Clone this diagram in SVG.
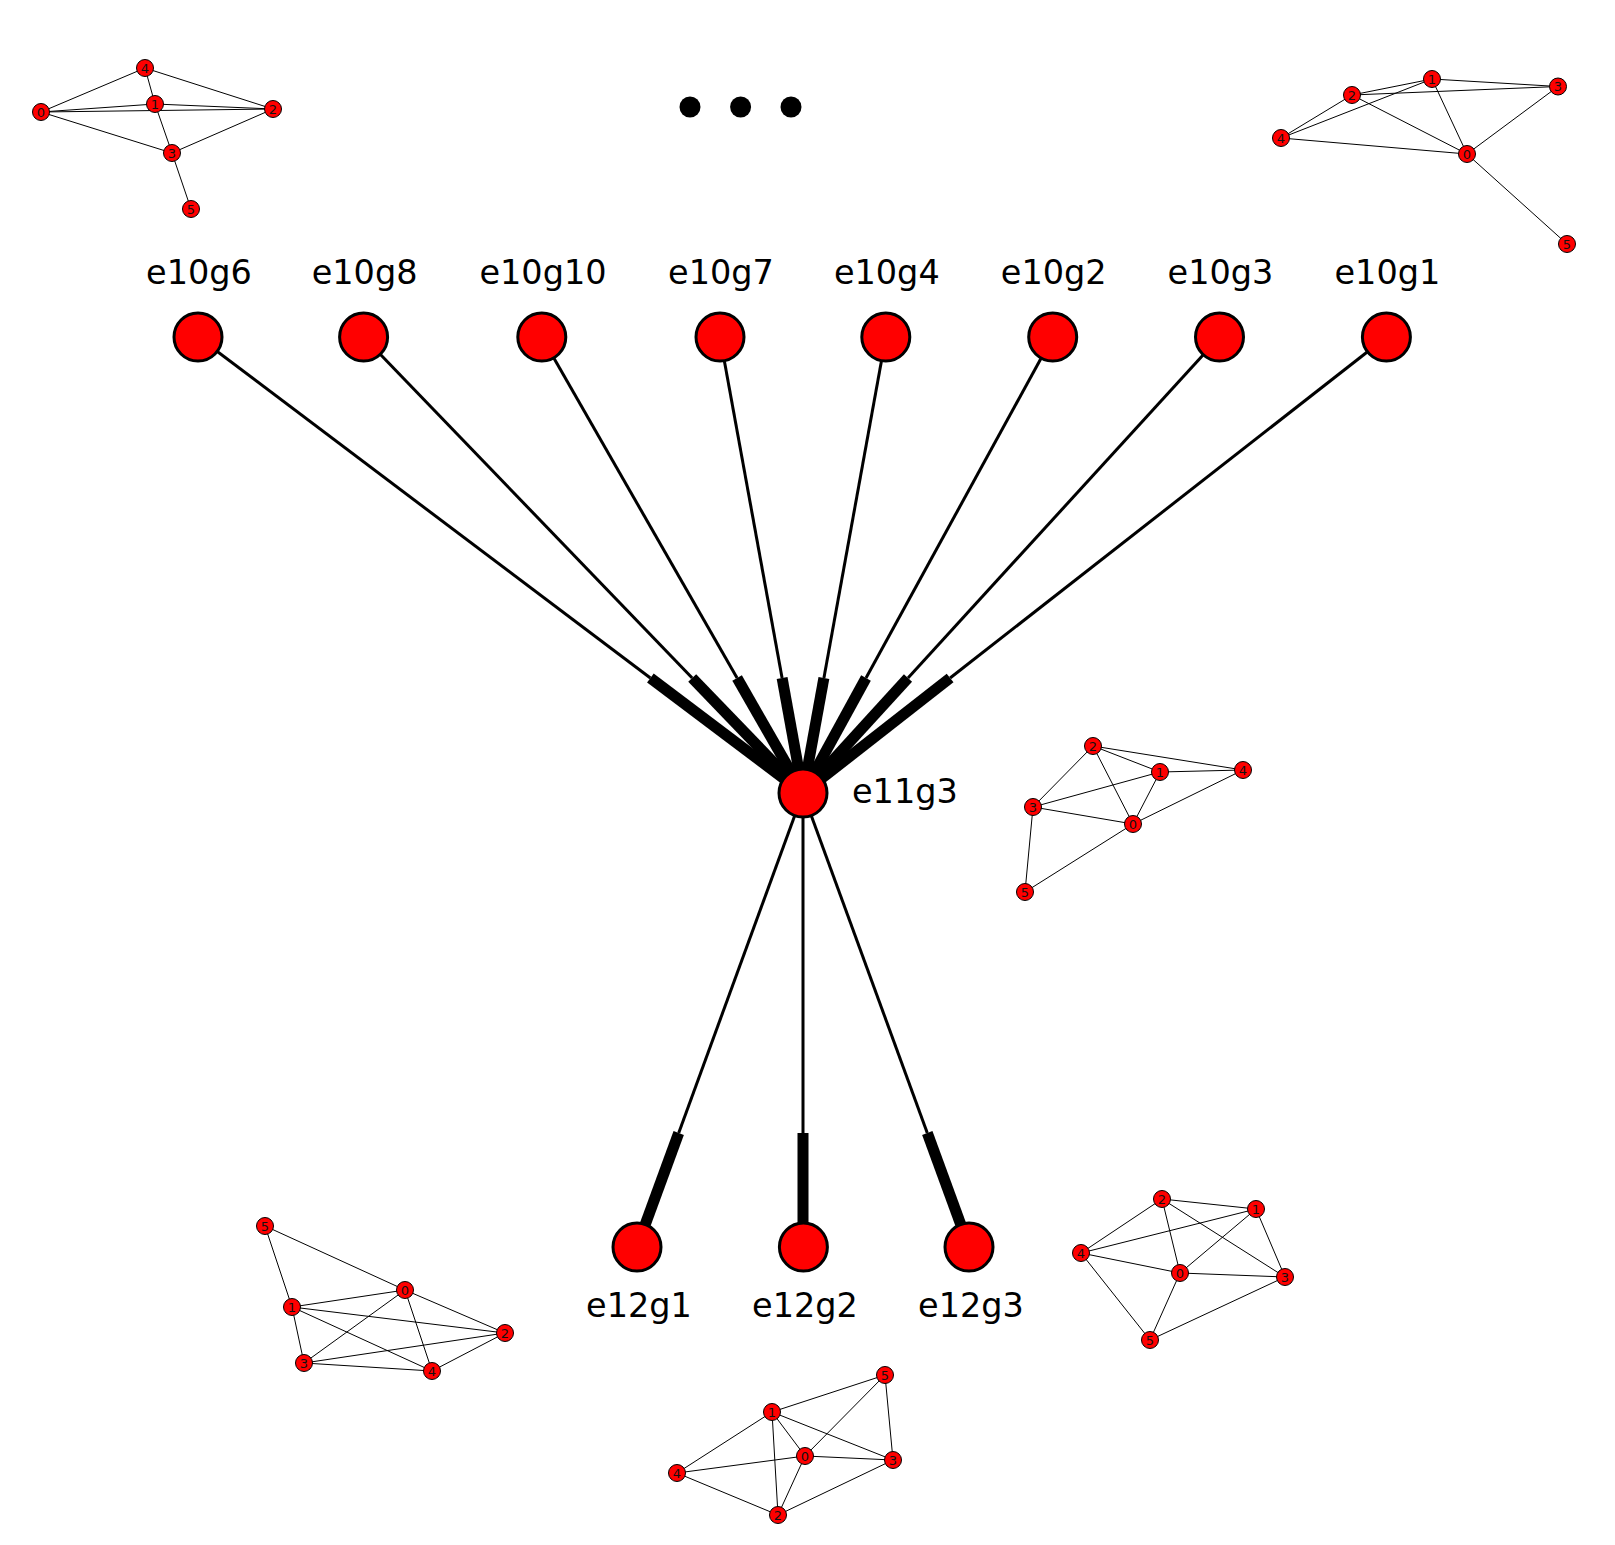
<svg xmlns="http://www.w3.org/2000/svg" width="1615" height="1545" viewBox="0 0 1615 1545">
<style>
.bg{fill:#ffffff}
.thin{stroke:#000;stroke-width:3;fill:none}
.thick{stroke:#000;stroke-width:11;fill:none;stroke-linecap:butt}
.node{fill:#ff0000;stroke:#000;stroke-width:3}
.lbl{font-family:"DejaVu Sans",sans-serif;font-size:33.5px;fill:#000}
.se{stroke:#000;stroke-width:1;fill:none}
.sn{fill:#ff0000;stroke:#000;stroke-width:1}
.st{font-family:"DejaVu Sans",sans-serif;font-size:13px;fill:#111;text-anchor:middle;dominant-baseline:central}
.dot{fill:#000}
</style>
<rect class="bg" x="0" y="0" width="1615" height="1545"/>
<g id="connectors">
<line class="thin" x1="198" y1="337" x2="650.4" y2="678"/><line class="thick" x1="650.4" y1="678" x2="803" y2="793"/>
<line class="thin" x1="363.6" y1="337" x2="692.2" y2="678"/><line class="thick" x1="692.2" y1="678" x2="803" y2="793"/>
<line class="thin" x1="541.8" y1="337" x2="737.1" y2="678"/><line class="thick" x1="737.1" y1="678" x2="803" y2="793"/>
<line class="thin" x1="720" y1="337" x2="782.1" y2="678"/><line class="thick" x1="782.1" y1="678" x2="803" y2="793"/>
<line class="thin" x1="885.8" y1="337" x2="823.9" y2="678"/><line class="thick" x1="823.9" y1="678" x2="803" y2="793"/>
<line class="thin" x1="1052.7" y1="337" x2="866" y2="678"/><line class="thick" x1="866" y1="678" x2="803" y2="793"/>
<line class="thin" x1="1219.5" y1="337" x2="908" y2="678"/><line class="thick" x1="908" y1="678" x2="803" y2="793"/>
<line class="thin" x1="1386.4" y1="337" x2="950.1" y2="678"/><line class="thick" x1="950.1" y1="678" x2="803" y2="793"/>
<line class="thin" x1="803" y1="793" x2="678.7" y2="1133"/><line class="thick" x1="678.7" y1="1133" x2="637" y2="1247"/>
<line class="thin" x1="803" y1="793" x2="803" y2="1133"/><line class="thick" x1="803" y1="1133" x2="803" y2="1247"/>
<line class="thin" x1="803" y1="793" x2="927.3" y2="1133"/><line class="thick" x1="927.3" y1="1133" x2="969" y2="1247"/>
</g>
<g id="e10g6"><circle class="node" cx="198" cy="337" r="24"/><text class="lbl" x="199" y="284" text-anchor="middle">e10g6</text></g>
<g id="e10g8"><circle class="node" cx="363.6" cy="337" r="24"/><text class="lbl" x="364.6" y="284" text-anchor="middle">e10g8</text></g>
<g id="e10g10"><circle class="node" cx="541.8" cy="337" r="24"/><text class="lbl" x="543" y="284" text-anchor="middle">e10g10</text></g>
<g id="e10g7"><circle class="node" cx="720" cy="337" r="24"/><text class="lbl" x="721" y="284" text-anchor="middle">e10g7</text></g>
<g id="e10g4"><circle class="node" cx="885.8" cy="337" r="24"/><text class="lbl" x="886.8" y="284" text-anchor="middle">e10g4</text></g>
<g id="e10g2"><circle class="node" cx="1052.7" cy="337" r="24"/><text class="lbl" x="1053.7" y="284" text-anchor="middle">e10g2</text></g>
<g id="e10g3"><circle class="node" cx="1219.5" cy="337" r="24"/><text class="lbl" x="1220.5" y="284" text-anchor="middle">e10g3</text></g>
<g id="e10g1"><circle class="node" cx="1386.4" cy="337" r="24"/><text class="lbl" x="1387.4" y="284" text-anchor="middle">e10g1</text></g>
<g id="e11g3"><circle class="node" cx="803" cy="793" r="24"/><text class="lbl" x="852" y="803">e11g3</text></g>
<g id="e12g1"><circle class="node" cx="637" cy="1247" r="24"/><text class="lbl" x="639" y="1317" text-anchor="middle">e12g1</text></g>
<g id="e12g2"><circle class="node" cx="803.4" cy="1247" r="24"/><text class="lbl" x="805" y="1317" text-anchor="middle">e12g2</text></g>
<g id="e12g3"><circle class="node" cx="969" cy="1247" r="24"/><text class="lbl" x="971" y="1317" text-anchor="middle">e12g3</text></g>
<g id="ellipsis"><circle class="dot" cx="690" cy="107" r="10.5"/><circle class="dot" cx="740.6" cy="107" r="10.5"/><circle class="dot" cx="791" cy="107" r="10.5"/></g>
<g id="graph-top-left">
<g class="se">
<line x1="41" y1="112" x2="145" y2="68"/><line x1="145" y1="68" x2="273" y2="109"/><line x1="145" y1="68" x2="155" y2="104"/>
<line x1="41" y1="112" x2="155" y2="104"/><line x1="41" y1="112" x2="273" y2="109"/><line x1="155" y1="104" x2="273" y2="109"/>
<line x1="41" y1="112" x2="172" y2="153"/><line x1="155" y1="104" x2="172" y2="153"/><line x1="172" y1="153" x2="273" y2="109"/>
<line x1="172" y1="153" x2="191" y2="209"/>
</g>
<circle class="sn" cx="41" cy="112" r="8.5"/><text class="st" x="41" y="112">0</text>
<circle class="sn" cx="155" cy="104" r="8.5"/><text class="st" x="155" y="104">1</text>
<circle class="sn" cx="273" cy="109" r="8.5"/><text class="st" x="273" y="109">2</text>
<circle class="sn" cx="172" cy="153" r="8.5"/><text class="st" x="172" y="153">3</text>
<circle class="sn" cx="145" cy="68" r="8.5"/><text class="st" x="145" y="68">4</text>
<circle class="sn" cx="191" cy="209" r="8.5"/><text class="st" x="191" y="209">5</text>
</g>
<g id="graph-top-right">
<g class="se">
<line x1="1352" y1="95" x2="1432" y2="79"/><line x1="1352" y1="95" x2="1558" y2="86.5"/><line x1="1432" y1="79" x2="1558" y2="86.5"/>
<line x1="1281" y1="138" x2="1352" y2="95"/><line x1="1281" y1="138" x2="1432" y2="79"/><line x1="1281" y1="138" x2="1467" y2="154"/>
<line x1="1352" y1="95" x2="1467" y2="154"/><line x1="1432" y1="79" x2="1467" y2="154"/><line x1="1467" y1="154" x2="1558" y2="86.5"/>
<line x1="1467" y1="154" x2="1567" y2="244"/>
</g>
<circle class="sn" cx="1467" cy="154" r="8.5"/><text class="st" x="1467" y="154">0</text>
<circle class="sn" cx="1432" cy="79" r="8.5"/><text class="st" x="1432" y="79">1</text>
<circle class="sn" cx="1352" cy="95" r="8.5"/><text class="st" x="1352" y="95">2</text>
<circle class="sn" cx="1558" cy="86.5" r="8.5"/><text class="st" x="1558" y="86.5">3</text>
<circle class="sn" cx="1281" cy="138" r="8.5"/><text class="st" x="1281" y="138">4</text>
<circle class="sn" cx="1567" cy="244" r="8.5"/><text class="st" x="1567" y="244">5</text>
</g>
<g id="graph-middle-right">
<g class="se">
<line x1="1093" y1="746" x2="1033" y2="807"/><line x1="1093" y1="746" x2="1160" y2="772"/><line x1="1093" y1="746" x2="1133" y2="824"/>
<line x1="1093" y1="746" x2="1243" y2="770"/><line x1="1160" y1="772" x2="1243" y2="770"/><line x1="1160" y1="772" x2="1033" y2="807"/>
<line x1="1160" y1="772" x2="1133" y2="824"/><line x1="1033" y1="807" x2="1133" y2="824"/><line x1="1133" y1="824" x2="1243" y2="770"/>
<line x1="1033" y1="807" x2="1025" y2="892"/><line x1="1133" y1="824" x2="1025" y2="892"/>
</g>
<circle class="sn" cx="1133" cy="824" r="8.5"/><text class="st" x="1133" y="824">0</text>
<circle class="sn" cx="1160" cy="772" r="8.5"/><text class="st" x="1160" y="772">1</text>
<circle class="sn" cx="1093" cy="746" r="8.5"/><text class="st" x="1093" y="746">2</text>
<circle class="sn" cx="1033" cy="807" r="8.5"/><text class="st" x="1033" y="807">3</text>
<circle class="sn" cx="1243" cy="770" r="8.5"/><text class="st" x="1243" y="770">4</text>
<circle class="sn" cx="1025" cy="892" r="8.5"/><text class="st" x="1025" y="892">5</text>
</g>
<g id="graph-bottom-left">
<g class="se">
<line x1="292" y1="1307" x2="405" y2="1290"/><line x1="292" y1="1307" x2="505" y2="1333"/><line x1="292" y1="1307" x2="432" y2="1371"/>
<line x1="292" y1="1307" x2="304" y2="1363"/><line x1="292" y1="1307" x2="265" y2="1226"/><line x1="405" y1="1290" x2="265" y2="1226"/>
<line x1="405" y1="1290" x2="505" y2="1333"/><line x1="405" y1="1290" x2="304" y2="1363"/><line x1="405" y1="1290" x2="432" y2="1371"/>
<line x1="304" y1="1363" x2="432" y2="1371"/><line x1="304" y1="1363" x2="505" y2="1333"/><line x1="432" y1="1371" x2="505" y2="1333"/>
</g>
<circle class="sn" cx="405" cy="1290" r="8.5"/><text class="st" x="405" y="1290">0</text>
<circle class="sn" cx="292" cy="1307" r="8.5"/><text class="st" x="292" y="1307">1</text>
<circle class="sn" cx="505" cy="1333" r="8.5"/><text class="st" x="505" y="1333">2</text>
<circle class="sn" cx="304" cy="1363" r="8.5"/><text class="st" x="304" y="1363">3</text>
<circle class="sn" cx="432" cy="1371" r="8.5"/><text class="st" x="432" y="1371">4</text>
<circle class="sn" cx="265" cy="1226" r="8.5"/><text class="st" x="265" y="1226">5</text>
</g>
<g id="graph-bottom-right">
<g class="se">
<line x1="1162" y1="1199" x2="1256" y2="1209"/><line x1="1162" y1="1199" x2="1081" y2="1253"/><line x1="1162" y1="1199" x2="1180" y2="1273"/>
<line x1="1162" y1="1199" x2="1285" y2="1277"/><line x1="1081" y1="1253" x2="1256" y2="1209"/><line x1="1081" y1="1253" x2="1180" y2="1273"/>
<line x1="1081" y1="1253" x2="1150" y2="1340"/><line x1="1256" y1="1209" x2="1180" y2="1273"/><line x1="1256" y1="1209" x2="1285" y2="1277"/>
<line x1="1180" y1="1273" x2="1285" y2="1277"/><line x1="1180" y1="1273" x2="1150" y2="1340"/><line x1="1150" y1="1340" x2="1285" y2="1277"/>
</g>
<circle class="sn" cx="1180" cy="1273" r="8.5"/><text class="st" x="1180" y="1273">0</text>
<circle class="sn" cx="1256" cy="1209" r="8.5"/><text class="st" x="1256" y="1209">1</text>
<circle class="sn" cx="1162" cy="1199" r="8.5"/><text class="st" x="1162" y="1199">2</text>
<circle class="sn" cx="1285" cy="1277" r="8.5"/><text class="st" x="1285" y="1277">3</text>
<circle class="sn" cx="1081" cy="1253" r="8.5"/><text class="st" x="1081" y="1253">4</text>
<circle class="sn" cx="1150" cy="1340" r="8.5"/><text class="st" x="1150" y="1340">5</text>
</g>
<g id="graph-bottom-center">
<g class="se">
<line x1="772" y1="1412" x2="885" y2="1375"/><line x1="772" y1="1412" x2="677" y2="1473"/><line x1="772" y1="1412" x2="805" y2="1456"/>
<line x1="772" y1="1412" x2="893" y2="1460"/><line x1="772" y1="1412" x2="778" y2="1515"/><line x1="805" y1="1456" x2="885" y2="1375"/>
<line x1="805" y1="1456" x2="677" y2="1473"/><line x1="805" y1="1456" x2="893" y2="1460"/><line x1="805" y1="1456" x2="778" y2="1515"/>
<line x1="677" y1="1473" x2="778" y2="1515"/><line x1="893" y1="1460" x2="778" y2="1515"/><line x1="885" y1="1375" x2="893" y2="1460"/>
</g>
<circle class="sn" cx="805" cy="1456" r="8.5"/><text class="st" x="805" y="1456">0</text>
<circle class="sn" cx="772" cy="1412" r="8.5"/><text class="st" x="772" y="1412">1</text>
<circle class="sn" cx="778" cy="1515" r="8.5"/><text class="st" x="778" y="1515">2</text>
<circle class="sn" cx="893" cy="1460" r="8.5"/><text class="st" x="893" y="1460">3</text>
<circle class="sn" cx="677" cy="1473" r="8.5"/><text class="st" x="677" y="1473">4</text>
<circle class="sn" cx="885" cy="1375" r="8.5"/><text class="st" x="885" y="1375">5</text>
</g>
</svg>
